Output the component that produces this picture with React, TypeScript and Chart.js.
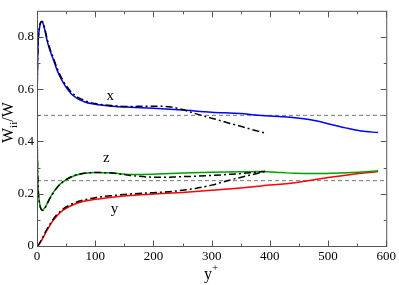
import React, { useEffect, useRef } from "react";
import { Chart, registerables } from "chart.js";

Chart.register(...registerables);

const FONT = "'Liberation Serif', 'Times New Roman', Times, serif";

// ---- x component (W_xx/W) ----
const solidXYp = [0, 0.5, 1, 2, 4, 6, 8.5, 11, 14, 18, 22, 27, 35, 45, 60, 80, 100, 130, 160, 200, 250, 300, 350, 375, 420, 443, 470, 500, 530, 557, 586];
const solidXW = [0.5, 0.62, 0.7, 0.78, 0.83, 0.852, 0.857, 0.848, 0.82, 0.78, 0.75, 0.72, 0.67, 0.625, 0.58, 0.553, 0.542, 0.535, 0.531, 0.527, 0.52, 0.512, 0.507, 0.501, 0.495, 0.491, 0.483, 0.468, 0.452, 0.44, 0.434];
const dashXYp = [0, 0.5, 1, 2, 4, 6, 8.5, 11, 14, 18, 22, 27, 35, 45, 60, 80, 100, 130, 160, 190, 210, 230, 250, 270, 290, 310, 330, 350, 370, 392];
const dashXW = [0.5, 0.62, 0.7, 0.78, 0.835, 0.855, 0.86, 0.852, 0.826, 0.787, 0.757, 0.727, 0.678, 0.632, 0.587, 0.558, 0.545, 0.537, 0.534, 0.535, 0.535, 0.532, 0.522, 0.508, 0.495, 0.483, 0.47, 0.458, 0.445, 0.432];

// ---- z component (W_zz/W) ----
const solidZYp = [0, 0.5, 1, 2, 4, 6, 8, 10, 13, 16, 20, 27, 35, 45, 62, 80, 100, 130, 160, 200, 250, 300, 350, 386, 420, 443, 480, 520, 560, 586];
const solidZW = [0.5, 0.38, 0.3, 0.22, 0.17, 0.148, 0.14, 0.138, 0.145, 0.156, 0.175, 0.202, 0.226, 0.246, 0.267, 0.277, 0.281, 0.279, 0.274, 0.275, 0.279, 0.282, 0.284, 0.285, 0.281, 0.278, 0.277, 0.279, 0.283, 0.288];
const dashZYp = [0, 0.5, 1, 2, 4, 6, 8, 10, 13, 16, 20, 27, 35, 45, 62, 80, 100, 130, 160, 190, 215, 245, 272, 300, 329, 360, 392];
const dashZW = [0.5, 0.38, 0.3, 0.22, 0.168, 0.146, 0.138, 0.136, 0.143, 0.155, 0.173, 0.2, 0.225, 0.246, 0.268, 0.278, 0.281, 0.279, 0.27, 0.264, 0.263, 0.265, 0.267, 0.27, 0.274, 0.279, 0.286];

// ---- y component (W_yy/W) ----
const solidYYp = [0, 3, 6, 10, 16, 22, 27, 35, 45, 62, 80, 100, 130, 160, 200, 250, 300, 350, 386, 443, 500, 540, 586];
const solidYW = [0, 0.005, 0.015, 0.03, 0.056, 0.078, 0.095, 0.117, 0.137, 0.158, 0.171, 0.179, 0.187, 0.193, 0.199, 0.205, 0.213, 0.222, 0.23, 0.242, 0.262, 0.274, 0.285];
const dashYYp = [0, 3, 6, 10, 16, 22, 27, 35, 45, 62, 80, 100, 130, 160, 190, 215, 245, 272, 300, 329, 360, 392];
const dashYW = [0, 0.006, 0.017, 0.034, 0.06, 0.083, 0.1, 0.122, 0.142, 0.163, 0.176, 0.185, 0.193, 0.199, 0.203, 0.206, 0.212, 0.22, 0.233, 0.251, 0.268, 0.285];

// ---- reference levels ----
const refSpan = [0, 600];
const refLevels = [0.5, 0.25];

// ---- axes ----
const xMajorTicks = [0, 100, 200, 300, 400, 500, 600];
const xMinorTicks = [50, 150, 250, 350, 450, 550];
const yMajorTicks = [0, 0.2, 0.4, 0.6, 0.8];
const yMinorTicks = [0.1, 0.3, 0.5, 0.7];

// ---- curve annotations ----
const curveLabels = ["x", "z", "y"];
const curveLabelYp = [126, 119, 133];
const curveLabelW = [0.574, 0.335, 0.14];

const pts = (xs: number[], ys: number[]) => xs.map((x, i) => ({ x, y: ys[i] }));

const framePlugin = {
  id: "framePlugin",
  afterDatasetsDraw(chart: any) {
    const { ctx, chartArea, scales } = chart;
    const { left, right, top, bottom } = chartArea;
    const xs = scales.x;
    const ys = scales.y;
    ctx.save();
    ctx.strokeStyle = "#555";
    ctx.lineWidth = 1;
    ctx.strokeRect(left + 0.5, top + 0.5, right - left, bottom - top);
    ctx.beginPath();
    const major = 6;
    const minor = 3;
    const xTick = (v: number, len: number) => {
      const p = Math.round(xs.getPixelForValue(v)) + 0.5;
      ctx.moveTo(p, bottom + 0.5);
      ctx.lineTo(p, bottom + 0.5 - len);
      ctx.moveTo(p, top + 0.5);
      ctx.lineTo(p, top + 0.5 + len);
    };
    const yTick = (v: number, len: number) => {
      const p = Math.round(ys.getPixelForValue(v)) + 0.5;
      ctx.moveTo(left + 0.5, p);
      ctx.lineTo(left + 0.5 + len, p);
      ctx.moveTo(right + 0.5, p);
      ctx.lineTo(right + 0.5 - len, p);
    };
    xMajorTicks.forEach((v) => xTick(v, major));
    xMinorTicks.forEach((v) => xTick(v, minor));
    yMajorTicks.forEach((v) => yTick(v, major));
    yMinorTicks.forEach((v) => yTick(v, minor));
    ctx.stroke();

    // curve labels
    ctx.fillStyle = "#000";
    ctx.font = `15px ${FONT}`;
    ctx.textAlign = "center";
    ctx.textBaseline = "middle";
    curveLabels.forEach((t, i) => {
      ctx.fillText(t, xs.getPixelForValue(curveLabelYp[i]), ys.getPixelForValue(curveLabelW[i]));
    });
    ctx.restore();
  },
  afterDraw(chart: any) {
    const { ctx } = chart;
    ctx.save();
    ctx.fillStyle = "#000";
    ctx.textAlign = "left";
    ctx.textBaseline = "alphabetic";
    // y-axis title: W_ii/W (rotated)
    ctx.translate(13, 143);
    ctx.rotate(-Math.PI / 2);
    ctx.font = `16px ${FONT}`;
    ctx.fillText("W", 0, 0);
    let w = ctx.measureText("W").width;
    ctx.font = `11px ${FONT}`;
    ctx.fillText("ii", w, 4);
    w += ctx.measureText("ii").width;
    ctx.font = `16px ${FONT}`;
    ctx.fillText("/W", w, 0);
    ctx.restore();

    // x-axis title: y+
    ctx.save();
    ctx.fillStyle = "#000";
    ctx.textAlign = "left";
    ctx.textBaseline = "alphabetic";
    ctx.font = `16px ${FONT}`;
    ctx.fillText("y", 204, 279);
    const yw = ctx.measureText("y").width;
    ctx.font = `11px ${FONT}`;
    ctx.fillText("+", 204 + yw, 271);
    ctx.restore();
  },
};

export default function App() {
  const ref = useRef<HTMLCanvasElement | null>(null);
  useEffect(() => {
    document.body.style.margin = "0";
    let chart: Chart | null = null;
    let cancelled = false;
    const build = () => {
      const canvas = ref.current;
      if (!canvas || cancelled) return;
      const solid = (data: any, color: string) => ({
        data,
        borderColor: color,
        borderWidth: 1.5,
        pointRadius: 0,
        fill: false,
        cubicInterpolationMode: "monotone" as const,
      });
      const dashdot = (data: any) => ({
        data,
        borderColor: "#000",
        borderWidth: 1.5,
        borderDash: [7, 3, 2, 3],
        pointRadius: 0,
        fill: false,
        cubicInterpolationMode: "monotone" as const,
      });
      chart = new Chart(canvas, {
        type: "line",
        data: {
          datasets: [
            dashdot(pts(dashXYp, dashXW)),
            dashdot(pts(dashZYp, dashZW)),
            dashdot(pts(dashYYp, dashYW)),
            solid(pts(solidXYp, solidXW), "#0000ff"),
            solid(pts(solidZYp, solidZW), "#00a000"),
            solid(pts(solidYYp, solidYW), "#ff0000"),
            ...refLevels.map((lv) => ({
              data: refSpan.map((x) => ({ x, y: lv })),
              borderColor: "#777",
              borderWidth: 1,
              borderDash: [4, 3],
              pointRadius: 0,
              fill: false,
            })),
          ] as any,
        },
        options: {
          animation: false,
          responsive: false,
          devicePixelRatio: 1,
          layout: { padding: { left: 0, top: 1, right: 11, bottom: 0 } },
          plugins: { legend: { display: false }, tooltip: { enabled: false } },
          scales: {
            x: {
              type: "linear",
              min: 0,
              max: 600,
              grid: { display: false, drawTicks: false },
              border: { display: false },
              ticks: {
                stepSize: 100,
                autoSkip: false,
                maxRotation: 0,
                padding: 3,
                color: "#000",
                font: { family: FONT, size: 13 },
                callback: (v: any) => String(v),
              },
              afterFit: (s: any) => {
                s.height = 39;
              },
            },
            y: {
              type: "linear",
              min: 0,
              max: 0.9,
              grid: { display: false, drawTicks: false },
              border: { display: false },
              ticks: {
                stepSize: 0.1,
                autoSkip: false,
                padding: 3,
                color: "#000",
                font: { family: FONT, size: 13 },
                callback: (v: any) => {
                  const r = Math.round(Number(v) * 10);
                  return r % 2 === 0 && r <= 8 ? String(r / 10) : "";
                },
              },
              afterFit: (s: any) => {
                s.width = 37;
              },
            },
          },
        },
        plugins: [framePlugin],
      });
    };
    const fonts: any = (document as any).fonts;
    if (fonts && fonts.load) {
      Promise.all([
        fonts.load(`13px "Liberation Serif"`),
        fonts.load(`16px "Liberation Serif"`),
      ])
        .catch(() => null)
        .then(() => build());
    } else {
      build();
    }
    return () => {
      cancelled = true;
      if (chart) chart.destroy();
    };
  }, []);
  return (
    <div style={{ position: "absolute", left: 0, top: 0, width: 399, height: 285, background: "#fff" }}>
      <canvas ref={ref} width={399} height={285} style={{ width: 399, height: 285, display: "block" }} />
    </div>
  );
}
